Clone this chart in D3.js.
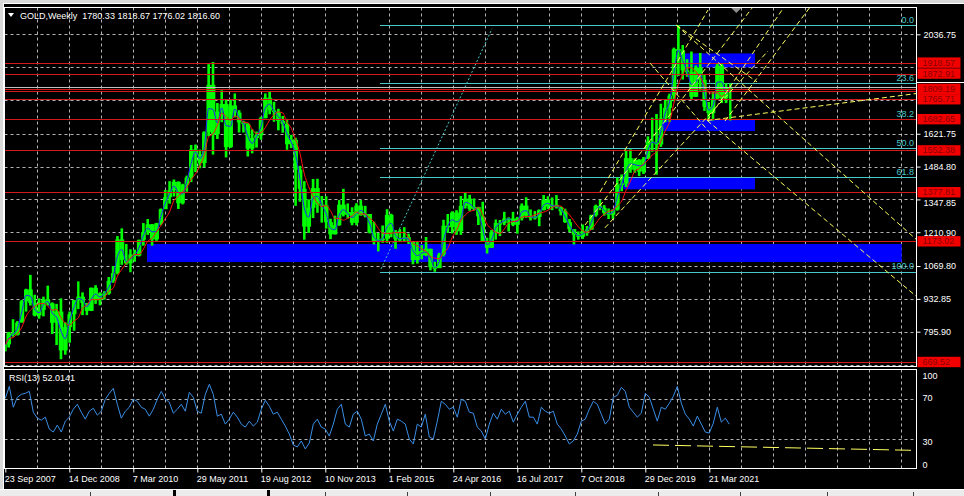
<!DOCTYPE html>
<html><head><meta charset="utf-8">
<script src="https://cdnjs.cloudflare.com/ajax/libs/d3/7.8.5/d3.min.js"></script>
<style>
html,body{margin:0;padding:0;background:#000;overflow:hidden;}
svg{display:block;font-family:"Liberation Sans",Arial,sans-serif;}
</style></head><body>
<svg id="chart" width="964" height="496"></svg>
<script>
// ================= DATA =================
const titleText = "GOLD,Weekly  1780.33 1818.67 1776.02 1816.60";
const firstBarDate = "2007-09-23";
const lastBarDate = "2021-08-22";
const visibleWeeks = 911;
const firstMonth = "2007-09-01";

// monthly bars (Sep 2007 .. Aug 2021)
const highs = [745,795,848,840,
 928,975,1033,950,935,942,988,918,912,935,835,880,
 928,1006,960,915,980,990,960,965,1024,1070,1195,1227,
 1162,1140,1138,1180,1249,1266,1245,1250,1310,1387,1424,1431,
 1423,1413,1447,1575,1577,1556,1632,1912,1921,1750,1803,1764,
 1764,1790,1720,1676,1665,1640,1631,1693,1790,1796,1755,1726,
 1696,1684,1617,1605,1488,1424,1348,1433,1434,1362,1361,1267,
 1280,1345,1392,1331,1315,1332,1345,1321,1287,1255,1208,1239,
 1307,1288,1220,1224,1232,1205,1171,1170,1157,1191,1142,1088,
 1125,1263,1287,1298,1303,1362,1375,1367,1352,1317,1338,1188,
 1220,1264,1262,1296,1273,1296,1275,1331,1357,1306,1299,1306,
 1366,1361,1356,1366,1318,1309,1266,1219,1214,1243,1237,1284,
 1326,1346,1324,1310,1306,1439,1452,1555,1557,1519,1516,1525,
 1611,1689,1704,1747,1765,1789,1981,2075,1992,1933,1965,1907,
 1959,1871,1755,1798,1913,1916,1832,1832];
const lows = [712,730,775,780,
 835,880,905,860,850,860,905,786,740,681,700,750,
 800,890,865,865,882,912,906,930,950,1000,1035,1075,
 1075,1044,1088,1110,1155,1200,1155,1175,1240,1315,1330,1360,
 1308,1327,1380,1420,1462,1478,1482,1611,1535,1600,1670,1523,
 1563,1690,1627,1627,1527,1540,1564,1597,1686,1703,1672,1636,
 1626,1555,1562,1321,1338,1180,1208,1270,1292,1251,1226,1182,
 1202,1238,1277,1268,1240,1240,1280,1273,1206,1160,1131,1167,
 1167,1190,1142,1170,1170,1162,1077,1080,1098,1111,1052,1046,
 1062,1110,1208,1206,1200,1200,1310,1300,1302,1241,1171,1122,
 1146,1180,1195,1240,1214,1236,1205,1260,1271,1260,1264,1236,
 1302,1307,1303,1310,1281,1250,1211,1160,1180,1183,1196,1221,
 1276,1303,1280,1266,1267,1301,1382,1400,1459,1459,1445,1454,
 1517,1547,1451,1567,1670,1671,1757,1863,1848,1860,1764,1775,
 1802,1717,1677,1677,1765,1750,1750,1677];
const closes = [743,789,783,834,
 923,972,916,864,887,930,914,833,880,718,815,869,
 927,942,916,883,979,927,955,955,1008,1040,1181,1096,
 1081,1118,1113,1179,1212,1244,1181,1248,1307,1357,1386,1421,
 1332,1409,1439,1556,1536,1500,1628,1826,1620,1714,1746,1566,
 1740,1710,1669,1664,1560,1604,1615,1687,1772,1719,1713,1675,
 1663,1578,1596,1472,1392,1234,1313,1395,1327,1323,1253,1202,
 1240,1326,1284,1295,1250,1322,1282,1287,1210,1171,1183,1184,
 1283,1213,1183,1183,1190,1172,1095,1132,1115,1142,1065,1061,
 1118,1238,1233,1293,1215,1321,1351,1309,1316,1277,1173,1146,
 1211,1249,1249,1268,1268,1242,1269,1322,1280,1271,1275,1303,
 1345,1318,1325,1315,1298,1253,1224,1201,1192,1215,1222,1282,
 1321,1313,1292,1284,1305,1409,1414,1520,1472,1513,1464,1517,
 1589,1585,1577,1686,1730,1781,1975,1967,1886,1879,1776,1898,
 1847,1734,1708,1769,1906,1770,1814,1816];
const firstOpen = 715;

// RSI(13), one reading every 4 weeks from the first bar
const rsiStepWeeks = 4;
const rsiValues = [71,83,62,72,75,76,78,57,51,49,52,40,37,44,37,48,52,60,65,57,
 50,58,61,54,58,70,76,81,65,51,58,62,70,68,62,60,53,60,70,78,
 70,67,56,60,65,58,77,72,58,56,75,85,75,53,55,45,50,57,52,45,
 42,48,43,47,60,69,63,55,57,50,43,35,24,22,28,20,26,45,50,42,
 40,33,45,60,65,45,42,55,58,50,33,35,28,45,55,65,48,38,50,48,
 45,30,25,45,42,55,32,30,48,68,65,60,62,52,70,68,57,56,42,38,
 30,45,56,50,60,55,58,47,55,62,68,52,52,45,62,58,56,58,45,40,
 33,25,28,35,48,50,60,68,65,55,45,50,72,74,82,78,62,57,52,56,
 76,72,60,48,62,60,66,73,83,66,55,50,43,53,45,37,36,46,62,47,51,45];
const rsiLabel = "RSI(13) 52.0141";
const rsiLevels = [70, 30];
const rsiTickValues = [100, 70, 30, 0];
const rsiTrend = ["2020-02-21", 24, "2025-02-14", 18.6];

// axis ticks (grid at every value; labels hidden behind level boxes are not printed)
const priceTicks = [2036.75,1899.80,1762.85,1621.75,1484.80,1347.85,1210.90,1069.80,932.85,795.90,658.95];
const priceTickLabels = [2036.75,1621.75,1484.80,1347.85,1210.90,1069.80,932.85,795.90];
const dateTicks = ["2007-09-23","2008-12-14","2010-03-07","2011-05-29","2012-08-19","2013-11-10",
 "2015-02-01","2016-04-24","2017-07-16","2018-10-07","2019-12-29","2021-03-21"];

// horizontal support/resistance levels
const redLevels = [1918.57,1872.91,1809.19,1765.71,1682.65,1552.38,1377.81,1173.02,669.52];
const extraRedLevels = [1799.0];
const bidPrice = 1816.60;

// Fibonacci retracement
const fibHigh = 2075.14, fibLow = 1046.27;
const fibRatios = [0, 23.6, 38.2, 50.0, 61.8, 100.0];
const fibStartDate = "2014-11-28";
const fibAnchor = ["2014-12-05", 1058, "2017-01-20", 2060];

// blue zones [startDate, endDate, top, bottom]
const zones = [
 ["2010-06-11","2024-11-27",1161.8,1086.7],
 ["2019-07-28","2022-02-04",1440,1390],
 ["2020-05-01","2022-02-04",1682,1633],
 ["2020-09-13","2022-02-04",1957,1899]
];

// yellow trend lines [date1, price1, date2, price2]
const trendLines = [
 ["2020-08-02",2075,"2025-03-14",1178],
 ["2021-03-07",1677,"2025-03-14",941],
 ["2021-03-07",1677,"2025-03-14",1790],
 ["2021-03-07",1677,"2022-08-12",2138],
 ["2019-02-15",1379,"2021-03-12",2138],
 ["2019-03-21",1229,"2022-05-06",1967],
 ["2021-07-09",1675,"2023-02-24",2150],
 ["2018-11-02",1241,"2022-01-14",2146],
 ["2020-01-31",1917,"2021-03-26",1625],
 ["2020-08-02",2075,"2022-02-18",1838]
];

// ================= DRAW =================
const svg = d3.select("#chart");
const parse = d3.timeParse("%Y-%m-%d");
const t0 = parse(firstBarDate);
const tLastEnd = d3.timeWeek.offset(parse(lastBarDate), 1);
const L = 4.5, R = 916.5, T = 7.5, MB = 366.5, RT = 369.5, RB = 468.5;

const x = d3.scaleTime().domain([t0, d3.timeWeek.offset(t0, visibleWeeks)]).range([5.3, 916.3]);
const y = d3.scaleLinear().domain([2036.75, 795.90]).range([34.3, 331.7]);
const yr = d3.scaleLinear().domain([0, 100]).range([468.8, 369.5]);

svg.append("rect").attr("width",964).attr("height",496).attr("fill","#000");

const defs = svg.append("defs");
defs.append("clipPath").attr("id","clipMain").append("rect")
  .attr("x",L).attr("y",T).attr("width",R-L).attr("height",MB-T);
defs.append("clipPath").attr("id","clipRsi").append("rect")
  .attr("x",L).attr("y",RT).attr("width",R-L).attr("height",RB-RT);

const main = svg.append("g").attr("clip-path","url(#clipMain)");
const rsiG = svg.append("g").attr("clip-path","url(#clipRsi)");

const gridColor = "#b4b4b4";
const vGrid = d3.range(1, 29).map(k => d3.timeWeek.offset(t0, 32*k));
[ [main, T, MB], [rsiG, RT, RB] ].forEach(([g, a, b]) => {
  g.selectAll(null).data(vGrid).join("line")
    .attr("x1", d => Math.round(x(d))+0.5).attr("x2", d => Math.round(x(d))+0.5)
    .attr("y1", a).attr("y2", b)
    .attr("stroke", gridColor).attr("stroke-dasharray","3,3").attr("stroke-width",1);
});
main.selectAll(null).data(priceTicks).join("line")
  .attr("x1", L).attr("x2", R)
  .attr("y1", d => Math.round(y(d))+0.5).attr("y2", d => Math.round(y(d))+0.5)
  .attr("stroke", gridColor).attr("stroke-dasharray","3,3");
rsiG.selectAll(null).data(rsiLevels).join("line")
  .attr("x1", L).attr("x2", R)
  .attr("y1", d => Math.round(yr(d))+0.5).attr("y2", d => Math.round(yr(d))+0.5)
  .attr("stroke", gridColor).attr("stroke-dasharray","3,3");

// blue zones
main.selectAll(null).data(zones).join("rect")
  .attr("x", d => x(parse(d[0]))).attr("width", d => x(parse(d[1])) - x(parse(d[0])))
  .attr("y", d => y(d[2])).attr("height", d => y(d[3]) - y(d[2]))
  .attr("fill", "#0000ff");

// fib
const fibColor = "#48c8c8";
const fibLevels = fibRatios.map(r => ({r, p: fibHigh - r/100*(fibHigh - fibLow)}));
main.selectAll(null).data(fibLevels).join("line")
  .attr("x1", x(parse(fibStartDate))).attr("x2", R)
  .attr("y1", d => Math.round(y(d.p))+0.5).attr("y2", d => Math.round(y(d.p))+0.5)
  .attr("stroke", fibColor);
main.append("line")
  .attr("x1", x(parse(fibAnchor[0]))).attr("y1", y(fibAnchor[1]))
  .attr("x2", x(parse(fibAnchor[2]))).attr("y2", y(fibAnchor[3]))
  .attr("stroke", fibColor).attr("stroke-dasharray","2,2");

// bars: body from previous close to close (full width) + narrower high-low range
const monthDates = d3.range(highs.length).map(i => d3.timeMonth.offset(parse(firstMonth), i));
const bars = monthDates.map((d, i) => {
  const s = d < t0 ? t0 : d;
  const nx = d3.timeMonth.offset(d, 1);
  const e = nx > tLastEnd ? tLastEnd : nx;
  const o = i ? closes[i-1] : firstOpen;
  return {x0: x(s), x1: x(e), o, h: highs[i], l: lows[i], c: closes[i]};
});
const green = "#00ff00";
main.selectAll(null).data(bars).join("rect")
  .attr("x", d => d.x0 + (d.x1-d.x0)*0.2).attr("width", d => (d.x1 - d.x0)*0.6)
  .attr("y", d => y(d.h)).attr("height", d => y(d.l) - y(d.h))
  .attr("fill", green);
main.selectAll(null).data(bars).join("rect")
  .attr("x", d => d.x0).attr("width", d => d.x1 - d.x0 + 0.2)
  .attr("y", d => y(Math.max(d.o,d.c))).attr("height", d => Math.max(1.5, Math.abs(y(d.o) - y(d.c))))
  .attr("fill", green);

// moving averages
function sma(n){ return bars.map((b,i) => ({xm:(b.x0+b.x1)/2, v:d3.mean(closes.slice(Math.max(0,i-n+1), i+1))})); }
const lineGen = d3.line().x(d => d.xm).y(d => y(d.v)).curve(d3.curveMonotoneX);
main.append("path").attr("d", lineGen(sma(2))).attr("fill","none").attr("stroke","#2020ff").attr("stroke-width",1);
main.append("path").attr("d", lineGen(sma(5))).attr("fill","none").attr("stroke","#ff1010").attr("stroke-width",1);

// red levels
const redColor = "#d21a1a";
main.selectAll(null).data(redLevels.concat(extraRedLevels)).join("line")
  .attr("x1", L).attr("x2", R)
  .attr("y1", d => Math.round(y(d))+0.5).attr("y2", d => Math.round(y(d))+0.5)
  .attr("stroke", redColor);
// bid line
main.append("line").attr("x1",L).attr("x2",R)
  .attr("y1", Math.round(y(bidPrice))+0.5).attr("y2", Math.round(y(bidPrice))+0.5)
  .attr("stroke","#c0c0c0");

// yellow trend lines
main.selectAll(null).data(trendLines).join("line")
  .attr("x1", d => x(parse(d[0]))).attr("y1", d => y(d[1]))
  .attr("x2", d => x(parse(d[2]))).attr("y2", d => y(d[3]))
  .attr("stroke", "#ffff60").attr("stroke-dasharray","5,3");

// fib labels
main.selectAll(null).data(fibLevels).join("text")
  .attr("x", 914).attr("y", d => y(d.p) - 2.5)
  .attr("text-anchor","end").attr("font-size",9).attr("fill",fibColor)
  .text(d => d.r.toFixed(1));

// RSI
const rsiPts = rsiValues.map((v,i) => ({d: d3.timeWeek.offset(t0, i*rsiStepWeeks), v}));
rsiG.append("path")
  .attr("d", d3.line().x(d => x(d.d)).y(d => yr(d.v))(rsiPts))
  .attr("fill","none").attr("stroke","#3a8ee6").attr("stroke-width",1);
rsiG.append("line")
  .attr("x1", x(parse(rsiTrend[0]))).attr("y1", yr(rsiTrend[1]))
  .attr("x2", x(parse(rsiTrend[2]))).attr("y2", yr(rsiTrend[3]))
  .attr("stroke","#ffff60").attr("stroke-dasharray","16,6");
svg.append("text").attr("x",9).attr("y",381).attr("font-size",9).attr("fill","#fff").text(rsiLabel);

// chart-shift marker
svg.append("path").attr("d", d3.line()([[x(tLastEnd)-1,8],[x(tLastEnd)+9,8],[x(tLastEnd)+4,13]]))
  .attr("fill","#8c8c8c");

// panel borders
svg.append("rect").attr("x",L).attr("y",T).attr("width",R-L).attr("height",MB-T)
  .attr("fill","none").attr("stroke","#fff");
svg.append("rect").attr("x",L).attr("y",RT).attr("width",R-L).attr("height",RB-RT)
  .attr("fill","none").attr("stroke","#fff");

// price axis
const pAxis = d3.axisRight(y).tickValues(priceTickLabels).tickFormat(d3.format(".2f")).tickSize(4).tickPadding(3);
const pg = svg.append("g").attr("transform",`translate(${R},0)`).call(pAxis);
pg.select(".domain").remove();
pg.selectAll("line").attr("stroke","#fff");
pg.selectAll("text").attr("fill","#fff").attr("font-size",9).attr("font-family","Liberation Sans, Arial, sans-serif")
  .attr("dy", d => d === 1347.85 ? "0.62em" : "0.32em");

// bid label top edge (box itself hidden behind the level labels)
svg.append("line").attr("x1",R).attr("x2",964)
  .attr("y1",Math.round(y(bidPrice)-5.5)+0.5).attr("y2",Math.round(y(bidPrice)-5.5)+0.5).attr("stroke","#fff");

// red level labels
const lab = svg.append("g");
redLevels.forEach(v => {
  lab.append("rect").attr("x",R+1).attr("y",y(v)-5.2).attr("width",43).attr("height",10.4).attr("fill","#f20000");
  lab.append("text").attr("x",R+6).attr("y",y(v)+3.1).attr("font-size",9).attr("fill","#8a0000").text(v.toFixed(2));
});

// RSI axis
const rAxis = d3.axisRight(yr).tickValues(rsiTickValues).tickFormat(d3.format("d")).tickSize(0).tickPadding(6);
const rg = svg.append("g").attr("transform",`translate(${R},0)`).call(rAxis);
rg.select(".domain").remove();
rg.selectAll("text").attr("fill","#fff").attr("font-size",9).attr("font-family","Liberation Sans, Arial, sans-serif")
  .attr("dy", d => d===100 ? "1.0em" : d===0 ? "-0.2em" : d===30 ? "0.6em" : "0.1em");

// date axis
const dAxis = d3.axisBottom(x).tickValues(dateTicks.map(parse)).tickFormat(d3.timeFormat("%-d %b %Y")).tickSize(4).tickPadding(3);
const dg = svg.append("g").attr("transform",`translate(0,${RB})`).call(dAxis);
dg.select(".domain").remove();
dg.selectAll("line").attr("stroke","#fff");
dg.selectAll("text").attr("fill","#fff").attr("font-size",9).attr("text-anchor","start")
  .attr("font-family","Liberation Sans, Arial, sans-serif").attr("dx",-1);

// title
svg.append("path").attr("d", d3.line()([[8,13],[14,13],[11,17]])).attr("fill","#fff");
svg.append("text").attr("x",20).attr("y",19).attr("font-size",9).attr("fill","#fff").text(titleText).style("white-space","pre");

// window frame
svg.append("rect").attr("x",0).attr("y",0).attr("width",964).attr("height",3).attr("fill","#d8d8d8");
svg.append("rect").attr("x",0).attr("y",3).attr("width",964).attr("height",1).attr("fill","#ffffff");
svg.append("rect").attr("x",0).attr("y",0).attr("width",3).attr("height",496).attr("fill","#d8d8d8");
svg.append("rect").attr("x",3).attr("y",3).attr("width",1).attr("height",486).attr("fill","#ffffff");
svg.append("rect").attr("x",0).attr("y",489).attr("width",964).attr("height",7).attr("fill","#ececec");
svg.append("rect").attr("x",0).attr("y",489).attr("width",964).attr("height",1).attr("fill","#ffffff");
[[173,3],[267,3]].forEach(([a,w]) => svg.append("rect").attr("x",a).attr("y",490).attr("width",w).attr("height",6).attr("fill","#000"));
[90,325,407,490,575,658,740,827,913].forEach(a => svg.append("rect").attr("x",a).attr("y",492).attr("width",1).attr("height",4).attr("fill","#404040"));
</script>
</body></html>
